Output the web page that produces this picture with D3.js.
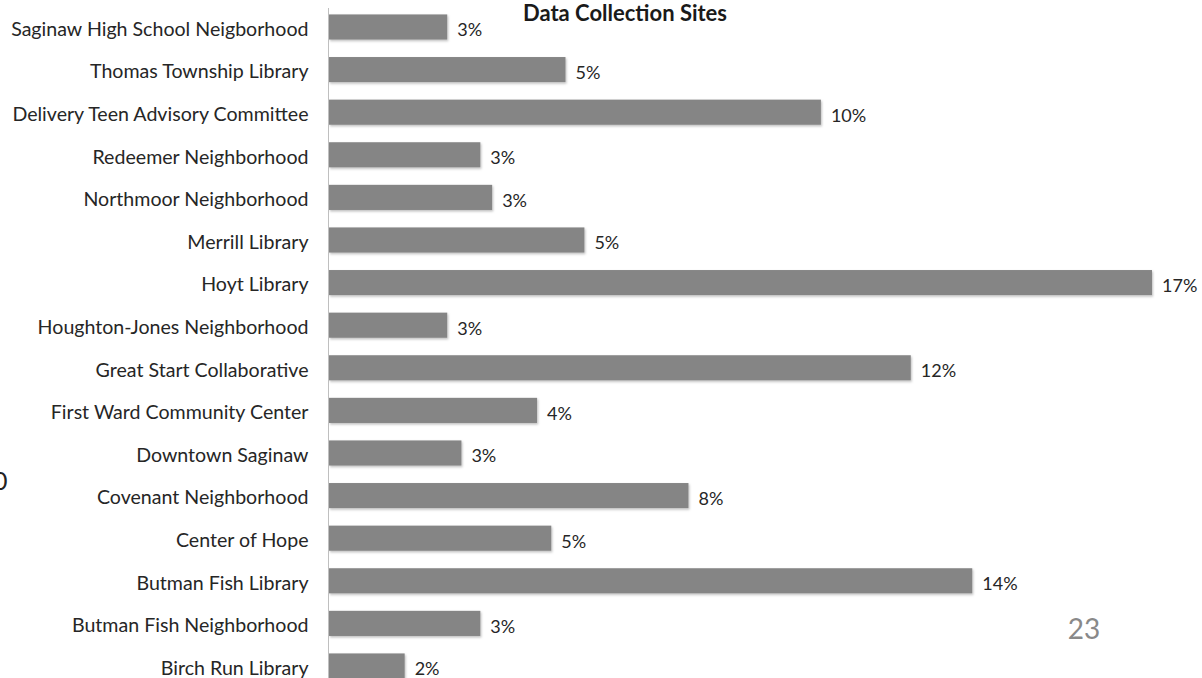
<!DOCTYPE html>
<html>
<head>
<meta charset="utf-8">
<script src="https://cdn.jsdelivr.net/npm/d3@7"></script>
<style>
  html, body { margin: 0; padding: 0; background: #fff; overflow: hidden; }
  svg { display: block; }
  text { font-family: Lato, "Open Sans", sans-serif; }
</style>
</head>
<body>
<div id="chart"></div>
<script>
// data collection sites, top to bottom as shown on the slide
const sites = [
    'Saginaw High School Neigborhood',
    'Thomas Township Library',
    'Delivery Teen Advisory Committee',
    'Redeemer Neighborhood',
    'Northmoor Neighborhood',
    'Merrill Library',
    'Hoyt Library',
    'Houghton-Jones Neighborhood',
    'Great Start Collaborative',
    'First Ward Community Center',
    'Downtown Saginaw',
    'Covenant Neighborhood',
    'Center of Hope',
    'Butman Fish Library',
    'Butman Fish Neighborhood',
    'Birch Run Library'
];

// share of responses, percent
const shares = [2.5, 5.0, 10.4, 3.2, 3.45, 5.4, 17.4, 2.5, 12.3, 4.4, 2.8, 7.6, 4.7, 13.6, 3.2, 1.6];

const title = 'Data Collection Sites';
const pageNumber = '23';

const W = 1202, H = 678;

const svg = d3.select('#chart').append('svg')
    .attr('width', W)
    .attr('height', H);

const defs = svg.append('defs');
defs.append('filter')
    .attr('id', 'barShadow')
    .attr('x', '-5%').attr('y', '-20%')
    .attr('width', '110%').attr('height', '160%')
    .append('feDropShadow')
    .attr('dx', 1).attr('dy', 1.5)
    .attr('stdDeviation', 1)
    .attr('flood-color', '#000')
    .attr('flood-opacity', 0.25);

const x = d3.scaleLinear()
    .domain([0, d3.max(shares)])
    .range([329, 1152]);

const y = d3.scaleBand()
    .domain(sites)
    .range([5.7, 687.3])
    .paddingInner(0.41)
    .paddingOuter(0.205);

const data = sites.map((s, i) => ({ site: s, value: shares[i] }));

// bars
svg.append('g').selectAll('rect')
    .data(data)
    .enter()
    .append('rect')
    .attr('x', x(0))
    .attr('y', (d) => y(d.site))
    .attr('width', (d) => x(d.value) - x(0))
    .attr('height', y.bandwidth())
    .attr('fill', '#858585')
    .attr('filter', 'url(#barShadow)');

// value labels
svg.append('g').selectAll('text')
    .data(data)
    .enter()
    .append('text')
    .attr('x', (d) => x(d.value) + 10)
    .attr('y', (d) => y(d.site) + y.bandwidth() / 2)
    .attr('dy', '0.52em')
    .attr('fill', '#262626')
    .style('font-size', '18px')
    .text((d) => Math.round(d.value) + '%');

// category axis
const yAxis = svg.append('g')
    .attr('transform', `translate(${x(0) - 0.5},0)`)
    .call(d3.axisLeft(y).tickSize(0).tickPadding(20));
yAxis.select('.domain')
    .attr('d', `M0,8V${H}`)
    .attr('stroke', '#bfbfbf');
yAxis.selectAll('text')
    .attr('dy', '0.45em')
    .attr('fill', '#262626')
    .style('font-size', '19.6px')
    .style('font-family', 'Lato, "Open Sans", sans-serif');

// title
svg.append('text')
    .attr('x', 625)
    .attr('y', 21)
    .attr('text-anchor', 'middle')
    .attr('fill', '#1a1a1a')
    .style('font-size', '22px')
    .style('font-weight', 'bold')
    .text(title);

// stray axis number cut off at the slide edge
svg.append('text')
    .attr('x', -7)
    .attr('y', 490)
    .attr('fill', '#222')
    .style('font-size', '25px')
    .text('0');

// slide page number
svg.append('text')
    .attr('x', 1084)
    .attr('y', 639)
    .attr('text-anchor', 'middle')
    .attr('fill', '#898989')
    .style('font-size', '28px')
    .text(pageNumber);
</script>
</body>
</html>
